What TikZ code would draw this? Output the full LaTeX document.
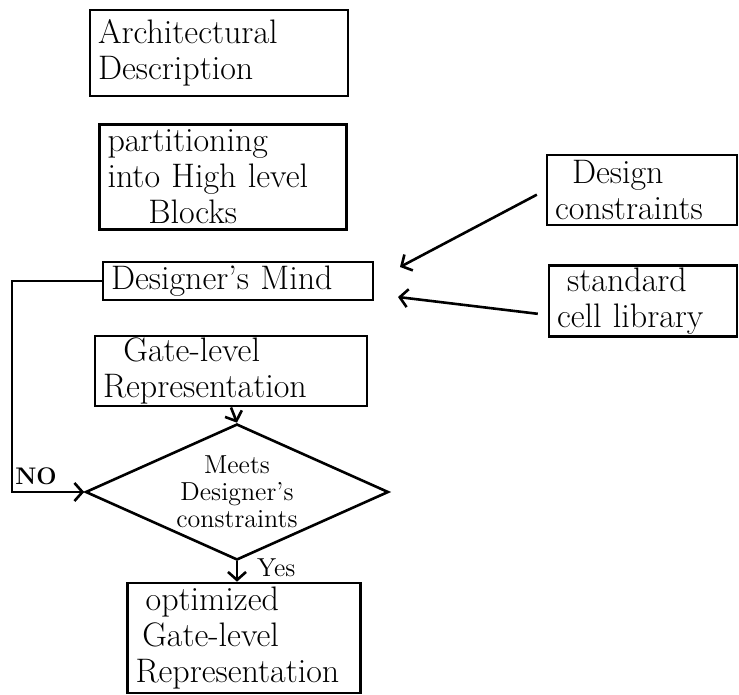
\documentclass[tikz,border=0pt]{standalone}
\usepackage{tikz}
\usetikzlibrary{arrows.meta,shapes.geometric}

\begin{document}
\begin{tikzpicture}[x=0.5pt,y=-0.5pt]

	\tikzstyle box=[draw, line width=1.3pt, align=left, inner xsep=4pt, inner ysep=1pt,
		font=\fontsize{17}{18}\selectfont];
	\tikzstyle decision=[draw, line width=1.3pt, diamond, aspect=2.2, inner sep=0pt,
		align=center, font=\fontsize{13}{13.5}\selectfont];
	\tikzstyle flow lines=[line width=1.3pt, -{Straight Barb[length=4pt,width=9pt]}];

	\useasboundingbox (0,0) rectangle (739,695);

	% main column
	\node[box, text width=121pt, minimum height=43pt] (arch) at (219,53)
		{Architectural\\Description};
	\node[box, text width=115.5pt, minimum height=52.5pt] (part) at (223,177)
		{partitioning\\into High level\\\hspace*{1.2em}Blocks};
	\node[box, text width=127pt, minimum height=19pt] (mind) at (238,281)
		{Designer's Mind};
	\node[box, text width=128pt, minimum height=35pt] (gate) at (231,371)
		{\hspace*{0.6em}Gate-level\\Representation};
	\node[decision, minimum width=151.5pt, minimum height=68pt] (meets) at (237,492)
		{Meets\\Designer's\\constraints};
	\node[box, text width=108.5pt, minimum height=55pt] (opt) at (244,638)
		{\hspace*{0.3em}optimized\\\hspace*{0.2em}Gate-level\\Representation};

	% inputs on the right
	\node[box, text width=87pt, minimum height=35pt] (cons) at (642,190)
		{\hspace*{0.5em}Design\\constraints};
	\node[box, text width=86pt, minimum height=29pt] (lib) at (643,301)
		{\hspace*{0.3em}standard\\cell library};
	\coordinate (constip) at (400,267);
	\coordinate (libtip) at (398,297);

	\draw[flow lines, shorten <=5pt] (cons.west) -- (constip);
	\draw[flow lines, shorten <=5pt] ([yshift=-7pt]lib.west) -- (libtip);

	\draw[flow lines] (gate.south) -- (meets.north);
	\draw[flow lines] (meets.south) -- (meets.south |- opt.north);
	\node[font=\fontsize{13}{14}\selectfont, anchor=west] (yes) at (250,568) {Yes};

	% loop back when the check fails
	\coordinate (noturn) at (12,281);
	\draw[flow lines] (mind.west) -- (noturn) |- (meets.west);
	\node[font=\bfseries\fontsize{12}{14}\selectfont] (no) at (36,476) {NO};

\end{tikzpicture}
\end{document}
